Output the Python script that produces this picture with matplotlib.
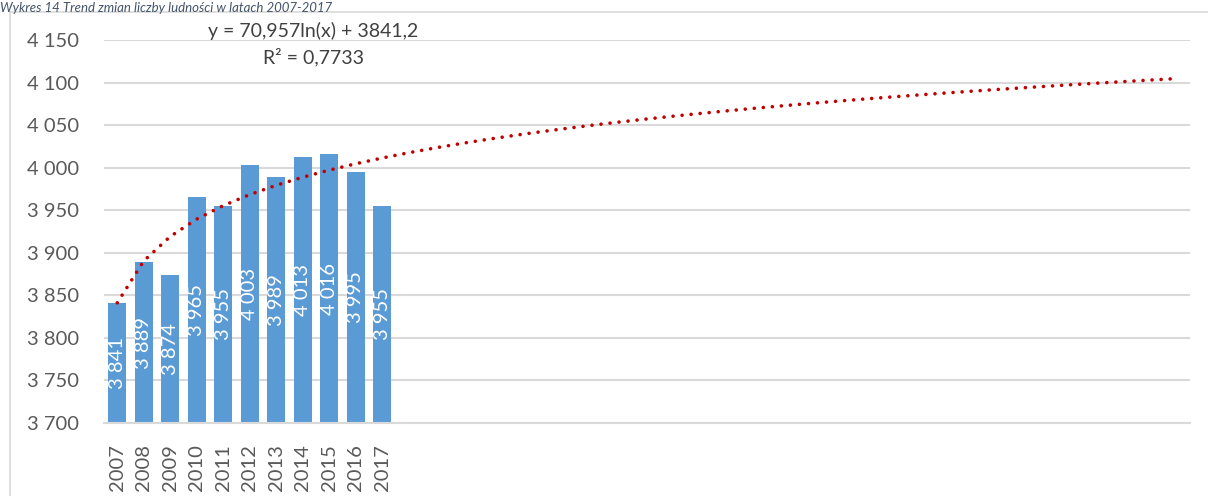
import matplotlib.pyplot as plt
import numpy as np
from matplotlib.lines import Line2D

years = ['2007', '2008', '2009', '2010', '2011', '2012', '2013', '2014', '2015', '2016', '2017']
values = [3841, 3889, 3874, 3965, 3955, 4003, 3989, 4013, 4016, 3995, 3955]
n_slots = 41  # the category axis continues (empty) past 2017, as in the source chart
title = 'Wykres 14 Trend zmian liczby ludności w latach 2007-2017'
eq_text = 'y = 70,957ln(x) + 3841,2'
r2_text = 'R² = 0,7733'


def fmt(v):
    s = f'{v:,.0f}'.replace(',', ' ')
    return s


def main():
    plt.rcParams['font.family'] = ['Lato', 'DejaVu Sans']
    W, H = 1208, 496
    fig = plt.figure(figsize=(W / 100, H / 100), dpi=100)
    ax = fig.add_axes([104 / W, 1 - 423 / H, (1190 - 104) / W, (423 - 40) / H])

    x = np.arange(1, len(values) + 1)
    ax.bar(x, values, width=0.68, color='#5B9BD5', zorder=2)
    for xi, v in zip(x, values):
        ax.text(xi, (3700 + v) / 2, fmt(v), rotation=90, ha='center', va='center',
                color='white', fontsize=14.5, zorder=3)

    # logarithmic trend line fitted to the data
    a, b = np.polyfit(np.log(x), values, 1)
    xt = np.arange(1, n_slots + 1)
    ax.plot(xt, a * np.log(xt) + b, color='#C00000', linewidth=2.6,
            linestyle=(0, (0.01, 2.5)), dash_capstyle='round', zorder=4)

    ax.text(8.4, 4161, eq_text, ha='center', va='center', fontsize=14, color='#404040')
    ax.text(8.4, 4130, r2_text, ha='center', va='center', fontsize=14, color='#404040')

    ax.set_xlim(0.5, n_slots + 0.5)
    ax.set_ylim(3700, 4150)
    yt = np.arange(3700, 4151, 50)
    ax.set_yticks(yt)
    ax.set_yticklabels([fmt(v) for v in yt])
    ax.set_xticks(x)
    ax.set_xticklabels(years, rotation=90)
    ax.tick_params(axis='both', length=0, labelsize=14.5, colors='#595959')
    ax.tick_params(axis='y', pad=18)
    ax.tick_params(axis='x', pad=15)
    ax.yaxis.grid(True, color='#D9D9D9', linewidth=1.5, zorder=0)
    ax.set_axisbelow(True)
    for s in ['top', 'right', 'left']:
        ax.spines[s].set_visible(False)
    ax.spines['bottom'].set_color('#D9D9D9')
    ax.spines['bottom'].set_linewidth(1.5)

    # chart frame
    fig.add_artist(Line2D([10 / W, 10 / W], [0, 1 - 12 / H], color='#D9D9D9', linewidth=1.2))
    fig.add_artist(Line2D([10 / W, 1], [1 - 12 / H, 1 - 12 / H], color='#D9D9D9', linewidth=1.2))

    fig.text(0, 1 - 2 / H, title, ha='left', va='top', fontsize=9.5,
             style='italic', color='#44546A')

    fig.savefig('out.png', dpi=100)


if __name__ == "__main__":
    main()
